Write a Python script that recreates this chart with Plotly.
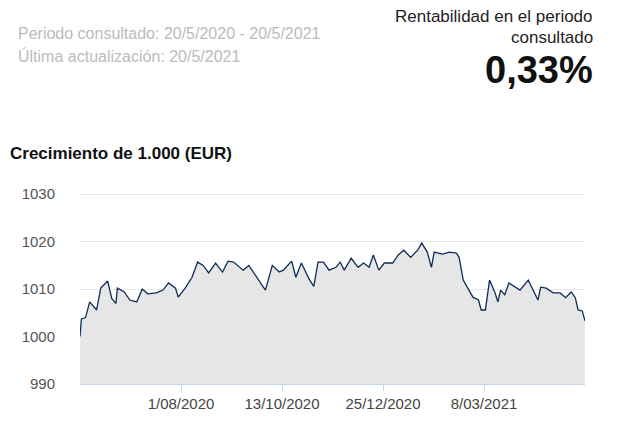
import plotly.graph_objects as go
import pandas as pd

start = "2020-05-20"
day_offsets = [0,1,4,7,12,15,20,23,26,27,32,36,41,45,49,55,60,64,69,71,76,81,85,89,93,98,103,107,111,118,122,128,134,139,144,147,153,156,160,166,169,172,176,180,185,188,191,196,201,205,209,212,216,220,226,230,234,239,244,247,251,254,256,262,267,272,274,277,280,284,288,290,293,296,300,302,304,307,310,315,318,324,328,331,333,337,342,347,351,355,358,360,363,365]
values = [1000,1003.7,1004,1007.3,1005.6,1010.2,1011.7,1008,1007,1010.2,1009.4,1007.7,1007.3,1010,1009,1009.2,1009.8,1011.3,1010.2,1008.3,1010.2,1012.5,1015.7,1015,1013.4,1015.5,1013.6,1015.9,1015.7,1014,1015,1012.5,1009.8,1015,1013.6,1014,1015.9,1012.5,1015.5,1011.9,1010.6,1015.7,1015.7,1014,1014.6,1015.7,1014,1016.5,1014.6,1015.5,1014.6,1017.2,1014,1015.5,1015.5,1017.2,1018.2,1016.7,1018.2,1019.7,1017.8,1014.6,1017.8,1017.4,1017.8,1017.6,1016.7,1011.9,1010.4,1008.3,1007.7,1005.6,1005.6,1011.9,1009.2,1007.3,1009.8,1008.8,1011.3,1010.4,1009.8,1011.9,1009.4,1007.7,1010.4,1010.2,1009.2,1009.2,1008.2,1009.4,1008.2,1005.6,1005.4,1003.3]
tick_dates = ["2020-08-01","2020-10-13","2020-12-25","2021-03-08"]
tick_labels = ["1/08/2020","13/10/2020","25/12/2020","8/03/2021"]
y_ticks = [990,1000,1010,1020,1030]

dates = pd.to_datetime(start) + pd.to_timedelta(day_offsets, unit="D")

fig = go.Figure(go.Scatter(
    x=dates, y=values, mode="lines",
    line=dict(color="#0d2b55", width=1.3),
    fill="tozeroy",
    fillgradient=dict(type="vertical", colorscale=[[0,"#fcfcfc"],[1,"#e6e6e6"]]),
    hoverinfo="skip"))

fig.update_layout(
    width=623, height=428, margin=dict(l=72, r=46, t=172, b=52),
    paper_bgcolor="white", plot_bgcolor="white", showlegend=False,
    font=dict(family="Arial, Liberation Sans", color="#555"),
    xaxis=dict(range=[dates[0], dates[-1]], tickvals=pd.to_datetime(tick_dates), ticktext=tick_labels,
               showgrid=False, showline=True, linecolor="#c5d3e8", ticks="outside", ticklen=6,
               tickcolor="#c5d3e8", tickfont=dict(size=15, color="#444")),
    yaxis=dict(range=[990, 1033], tickvals=y_ticks, showgrid=True, gridcolor="#e6e6e6",
               zeroline=False, ticks="", ticklabelstandoff=24, tickfont=dict(size=15, color="#555")),
    annotations=[
        dict(text="Periodo consultado: 20/5/2020 - 20/5/2021", xref="paper", yref="paper", x=-0.127, y=1.72,
             xanchor="left", yanchor="middle", showarrow=False, font=dict(size=16, color="#bbb")),
        dict(text="Última actualización: 20/5/2021", xref="paper", yref="paper", x=-0.127, y=1.61,
             xanchor="left", yanchor="middle", showarrow=False, font=dict(size=16, color="#bbb")),
        dict(text="Rentabilidad en el periodo", xref="paper", yref="paper", x=1.02, y=1.80,
             xanchor="right", yanchor="middle", showarrow=False, font=dict(size=17, color="#222")),
        dict(text="consultado", xref="paper", yref="paper", x=1.02, y=1.70,
             xanchor="right", yanchor="middle", showarrow=False, font=dict(size=17, color="#222")),
        dict(text="<b>0,33%</b>", xref="paper", yref="paper", x=1.02, y=1.54,
             xanchor="right", yanchor="middle", showarrow=False, font=dict(size=38, color="#111")),
        dict(text="<b>Crecimiento de 1.000 (EUR)</b>", xref="paper", yref="paper", x=-0.142, y=1.13,
             xanchor="left", yanchor="middle", showarrow=False, font=dict(size=17, color="#111")),
    ])
fig.write_html("out.html")
